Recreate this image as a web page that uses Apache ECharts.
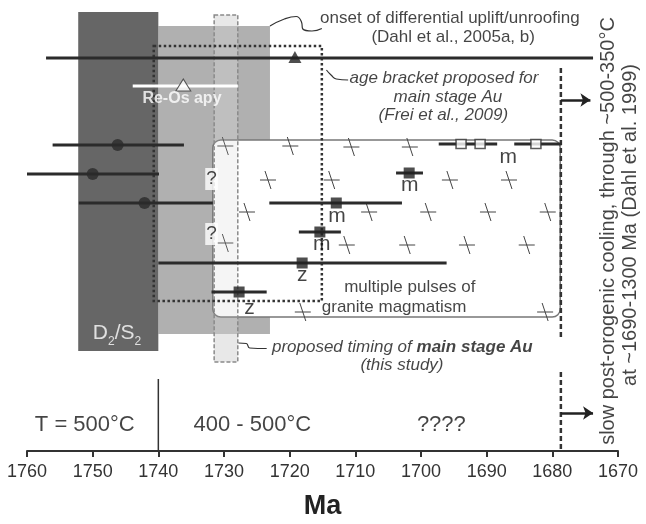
<!DOCTYPE html>
<html>
<head>
<meta charset="utf-8">
<script src="https://cdn.jsdelivr.net/npm/echarts@6/dist/echarts.min.js"></script>
<style>
html, body { margin: 0; padding: 0; background: #fff; }
#chart { width: 646px; height: 524px; }
</style>
</head>
<body>
<div id="chart"></div>
<script>
/**
 * timeline sketch: x = age in Ma, y = schematic level (0 top, 451 = time axis)
 */
var axisMin = 1670, axisMax = 1760, axisStep = 10;
var levelMin = 0, levelMax = 451;

// boxes: [from Ma, to Ma, top level, bottom level]
var deformBox = [[1752.2, 1740, 12, 351]];      // D2/S2
var shadeBox = [[1740, 1723, 26, 334]];
var auTimingBox = [[1731.5, 1727.9, 15, 362]];  // proposed timing, this study
var bracketBox = [[1740.7, 1715.1, 46, 301]];   // Frei et al. 2009
var graniteBox = [[1731.7, 1678.8, 140, 317]];

// age bars: [from Ma, to Ma, level]
var ageBars = [
	[1757.1, 1673.8, 58],
	[1756.1, 1736.1, 145],
	[1760.0, 1739.9, 174],
	[1752.1, 1731.7, 203],
	[1723.1, 1702.9, 203],
	[1703.8, 1699.7, 173],
	[1718.6, 1712.2, 232],
	[1740.0, 1696.1, 263],
	[1731.9, 1723.5, 292],
	[1697.3, 1688.4, 144],
	[1685.8, 1678.6, 144]
];
var reOsBar = [[1743.9, 1727.9, 86]];

// point ages: [Ma, level]
var circleAges = [[1746.2, 145], [1750.0, 174], [1742.1, 203]];
var squareAges = [[1712.9, 203], [1701.8, 173], [1715.4, 232], [1718.1, 263], [1727.7, 292]];
var openSquareAges = [[1693.9, 144], [1691.0, 144], [1682.5, 144]];
var upliftAge = [[1719.2, 57]];
var reOsAge = [[1736.2, 85]];

// granite pattern crosses
var graniteCrosses = [
	[1729.8, 146], [1719.9, 146], [1710.6, 147], [1701.7, 147],
	[1723.3, 180], [1713.6, 180], [1695.6, 180], [1686.6, 180],
	[1726.5, 212], [1707.9, 212], [1698.9, 212], [1689.8, 212], [1680.7, 212],
	[1729.8, 243], [1711.3, 245], [1702.1, 245], [1693.0, 245], [1683.9, 245],
	[1718.0, 312], [1681.1, 312]
];

// vertical segments: [Ma, top level, bottom level]
var coolingDashes = [[1678.7, 68, 340], [1678.7, 372, 451]];
var tempBoundary = [[1740, 379, 451]];
var coolingArrows = [[[1678.7, 100], [1674.2, 100]], [[1678.7, 413], [1673.8, 413]]];

// leader lines
var onsetLeader = [[1723.0, 26], [1720.8, 19], [1719.0, 16.5], [1718.2, 22], [1718.0, 29], [1716.6, 31], [1715.1, 28.5]];
var bracketLeader = [[1714.4, 70], [1713.7, 75], [1712.9, 79], [1711.1, 80]];
var timingLeader = [[1727.8, 343], [1726.6, 343.5], [1726.1, 348], [1723.5, 348.5]];

// texts: [text, Ma, level]
var noteTexts = [
	['onset of differential uplift/unroofing', 1695.6, 18],
	['(Dahl et al., 2005a, b)', 1695.1, 37],
	['multiple pulses of', 1701.7, 287],
	['granite magmatism', 1704.1, 307]
];
var italicTexts = [
	['age bracket proposed for', 1696.5, 78],
	['main stage Au', 1695.9, 97],
	['(Frei et al., 2009)', 1696.6, 115],
	['(this study)', 1702.9, 365]
];
var timingText = [['{i|proposed timing of }{w|main stage Au}', 1722.7, 347]];
var tempTexts = [['T = 500°C', 1751.2, 425], ['400 - 500°C', 1725.7, 425], ['????', 1696.9, 425]];
var sampleLetters = [['m', 1712.8, 216], ['m', 1715.1, 244], ['z', 1718.1, 275], ['z', 1726.1, 308], ['m', 1701.7, 185], ['m', 1686.7, 157]];
var queryMarks = [['?', 1731.9, 179], ['?', 1731.9, 234]];
var reOsText = [['Re-Os apy', 1736.4, 99]];
var deformText = [['{b|D}{s|2}{b|/S}{s|2}', 1746.3, 333]];
var sideTexts = [
	['slow post-orogenic cooling, through ~500-350°C', 1671.5, 231],
	['at ~1690-1300 Ma (Dahl et al. 1999)', 1668.1, 225]
];

var FONT = 'Liberation Sans, Arial, Helvetica, sans-serif';
var INK = '#151515';

var _boxSeries = function(data, z, style, radius) {
	return {
		type: 'custom', z: z, silent: true, data: data,
		encode: { x: [0, 1], y: [2, 3] },
		renderItem: function(params, api) {
			var a = api.coord([api.value(0), api.value(2)]);
			var b = api.coord([api.value(1), api.value(3)]);
			return {
				type: 'rect',
				shape: { x: Math.min(a[0], b[0]), y: Math.min(a[1], b[1]), width: Math.abs(b[0] - a[0]), height: Math.abs(b[1] - a[1]), r: radius || 0 },
				style: style
			};
		}
	};
}

var _hSeries = function(data, z, style) {
	return {
		type: 'custom', z: z, silent: true, data: data,
		encode: { x: [0, 1], y: 2 },
		renderItem: function(params, api) {
			var a = api.coord([api.value(0), api.value(2)]);
			var b = api.coord([api.value(1), api.value(2)]);
			return { type: 'line', shape: { x1: a[0], y1: a[1], x2: b[0], y2: b[1] }, style: style };
		}
	};
}

var _vSeries = function(data, z, style) {
	return {
		type: 'custom', z: z, silent: true, data: data,
		encode: { x: 0, y: [1, 2] },
		renderItem: function(params, api) {
			var a = api.coord([api.value(0), api.value(1)]);
			var b = api.coord([api.value(0), api.value(2)]);
			return { type: 'line', shape: { x1: a[0], y1: a[1], x2: b[0], y2: b[1] }, style: style };
		}
	};
}

var _markSeries = function(data, z, symbol, size, itemStyle) {
	return {
		type: 'scatter', z: z, silent: true, clip: false, data: data,
		symbol: symbol, symbolSize: size, itemStyle: itemStyle
	};
}

var _leaderSeries = function(data) {
	return {
		type: 'line', z: 7, silent: true, data: data, smooth: 0.5, showSymbol: false, symbol: 'none',
		lineStyle: { color: '#333', width: 1.2 }
	};
}

var _textSeries = function(items, label) {
	var base = { show: true, position: 'inside', fontFamily: FONT, color: INK, formatter: function(p) { return p.name; } };
	for(var k in label) base[k] = label[k];
	return {
		type: 'scatter', z: 10, silent: true, clip: false, symbolSize: 0,
		itemStyle: { color: 'rgba(0,0,0,0)' },
		data: items.map(function(t) { return { name: t[0], value: [t[1], t[2]] }; }),
		label: base,
		emphasis: { disabled: true }
	};
}

var series = [
	_boxSeries(shadeBox, 1, { fill: '#b0b0b0' }),
	_boxSeries(deformBox, 1, { fill: '#666666' }),
	_boxSeries(auTimingBox, 2, { fill: 'rgba(213,213,213,0.38)' }),
	_boxSeries(graniteBox, 3, { fill: '#ffffff', stroke: '#777', lineWidth: 1.5 }, 8),
	{
		type: 'custom', z: 4, silent: true, data: graniteCrosses,
		encode: { x: 0, y: 1 },
		renderItem: function(params, api) {
			var p = api.coord([api.value(0), api.value(1)]);
			var st = { stroke: '#444', lineWidth: 1 };
			return {
				type: 'group', children: [
					{ type: 'line', shape: { x1: p[0] - 8, y1: p[1], x2: p[0] + 8, y2: p[1] }, style: st },
					{ type: 'line', shape: { x1: p[0] - 3, y1: p[1] - 9, x2: p[0] + 3, y2: p[1] + 9 }, style: st }
				]
			};
		}
	},
	_boxSeries(auTimingBox, 5, { fill: 'rgba(200,200,200,0.18)' }),
	_boxSeries(auTimingBox, 6, { fill: 'none', stroke: '#8a8a8a', lineWidth: 1.5, lineDash: [4, 2] }),
	_boxSeries(bracketBox, 7, { fill: 'none', stroke: '#333', lineWidth: 2.5, lineDash: [2.5, 2.5] }),
	_vSeries(coolingDashes, 7, { stroke: '#333', lineWidth: 2.5, lineDash: [5, 3] }),
	_vSeries(tempBoundary, 7, { stroke: '#333', lineWidth: 1.5 }),
	{
		type: 'lines', coordinateSystem: 'cartesian2d', z: 7, silent: true,
		symbol: ['none', 'arrow'], symbolSize: 10,
		lineStyle: { color: '#222', width: 2.5, opacity: 1 },
		data: coolingArrows.map(function(c) { return { coords: c }; })
	},
	_leaderSeries(onsetLeader),
	_leaderSeries(bracketLeader),
	_leaderSeries(timingLeader),
	_hSeries(ageBars, 8, { stroke: '#2b2b2b', lineWidth: 3 }),
	_hSeries(reOsBar, 8, { stroke: '#ffffff', lineWidth: 3 }),
	_markSeries(circleAges, 9, 'circle', 12, { color: '#2b2b2b' }),
	_markSeries(squareAges, 9, 'rect', 11, { color: '#222' }),
	_markSeries(openSquareAges, 9, 'rect', [10, 9], { color: '#fff', borderColor: '#333', borderWidth: 1.5 }),
	_markSeries(upliftAge, 9, 'triangle', [13, 12], { color: '#222' }),
	_markSeries(reOsAge, 9, 'triangle', [15, 12], { color: '#fff', borderColor: '#333', borderWidth: 1 }),
	_textSeries(noteTexts, { fontSize: 17 }),
	_textSeries(italicTexts, { fontSize: 17, fontStyle: 'italic' }),
	_textSeries(timingText, {
		position: 'right', distance: 0,
		rich: {
			i: { fontSize: 17, fontStyle: 'italic', fontFamily: FONT, color: INK },
			w: { fontSize: 17, fontStyle: 'italic', fontWeight: 'bold', fontFamily: FONT, color: INK }
		}
	}),
	_textSeries(tempTexts, { fontSize: 22 }),
	_textSeries(sampleLetters, { fontSize: 21 }),
	_textSeries(queryMarks, { fontSize: 19, backgroundColor: '#fff', padding: [2, 1, 1, 1] }),
	_textSeries(reOsText, { fontSize: 16, fontWeight: 'bold', color: '#fff' }),
	_textSeries(deformText, {
		rich: {
			b: { fontSize: 21, color: '#fff', fontFamily: FONT, lineHeight: 30, verticalAlign: 'middle' },
			s: { fontSize: 12, color: '#fff', fontFamily: FONT, lineHeight: 12, verticalAlign: 'bottom' }
		}
	}),
	_textSeries(sideTexts, { fontSize: 20, rotate: 90 })
];

var chart = echarts.init(document.getElementById('chart'), null, { renderer: 'canvas' });
chart.setOption({
	animation: false,
	textStyle: { fontFamily: FONT },
	grid: { left: 27, right: 28, top: 0, bottom: 73, containLabel: false, outerBoundsMode: 'none' },
	xAxis: {
		type: 'value', min: axisMin, max: axisMax, interval: axisStep, inverse: true,
		axisLine: { show: true, onZero: false, lineStyle: { color: '#333', width: 2 } },
		axisTick: { show: true, length: 6, lineStyle: { color: '#333', width: 2 } },
		axisLabel: { fontSize: 18, color: '#333', margin: 12, fontFamily: FONT, formatter: function(v) { return String(v); } },
		splitLine: { show: false },
		name: 'Ma', nameLocation: 'middle', nameGap: 42,
		nameTextStyle: { fontSize: 27, fontWeight: 'bold', color: '#222', fontFamily: FONT }
	},
	yAxis: { type: 'value', min: levelMin, max: levelMax, inverse: true, show: false },
	series: series
});
</script>
</body>
</html>
